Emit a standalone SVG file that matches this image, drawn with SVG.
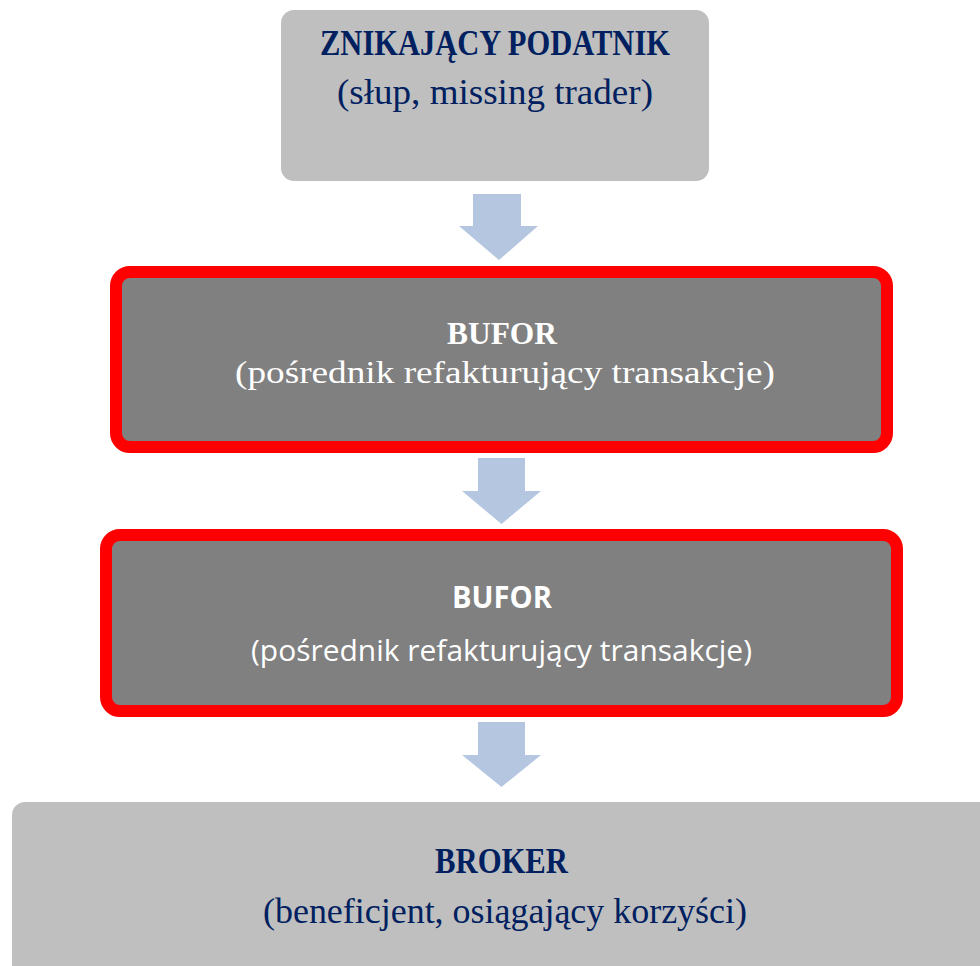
<svg xmlns="http://www.w3.org/2000/svg" width="980" height="966" viewBox="0 0 980 966">
  <style>
    .light { fill: #bfbfbf; }
    .dark { fill: #808080; stroke: #ff0000; stroke-width: 12; }
    .arrow { fill: #b4c6e0; }
    .serif { font-family: "Liberation Serif", "DejaVu Serif", serif; text-anchor: middle; }
    .sans { font-family: "Open Sans", "Noto Sans", "Liberation Sans", sans-serif; text-anchor: middle; }
    .navy { fill: #002060; }
    .white { fill: #ffffff; }
    .b { font-weight: bold; }
  </style>
  <rect x="0" y="0" width="980" height="966" fill="#ffffff"/>
  <g id="connectors">
    <polygon class="arrow" points="473,194 521,194 521,226 538,226 499,260 459,226 473,226"/>
    <polygon class="arrow" points="478,458 525,458 525,491 541,491 501.5,524 462,491 478,491"/>
    <polygon class="arrow" points="478,722 525,722 525,755 541,755 501.5,787 462,755 478,755"/>
  </g>
  <g id="node-znikajacy">
    <rect class="light" x="281" y="10" width="428" height="171" rx="13"/>
    <text class="serif navy b" x="495" y="55" font-size="35" textLength="350" lengthAdjust="spacingAndGlyphs">ZNIKAJĄCY PODATNIK</text>
    <text class="serif navy" x="495" y="104" font-size="35" textLength="316" lengthAdjust="spacingAndGlyphs">(słup, missing trader)</text>
  </g>
  <g id="node-bufor1">
    <rect class="dark" x="116" y="272" width="771" height="175" rx="14"/>
    <text class="serif white b" x="502" y="344" font-size="31" textLength="110" lengthAdjust="spacingAndGlyphs">BUFOR</text>
    <text class="serif white" x="505" y="383" font-size="32" textLength="540" lengthAdjust="spacingAndGlyphs">(pośrednik refakturujący transakcje)</text>
  </g>
  <g id="node-bufor2">
    <rect class="dark" x="106" y="535" width="791" height="176" rx="14"/>
    <text class="sans white b" x="502" y="608" font-size="29.5" textLength="100" lengthAdjust="spacingAndGlyphs">BUFOR</text>
    <text class="sans white" x="501.5" y="661" font-size="30" textLength="501" lengthAdjust="spacingAndGlyphs">(pośrednik refakturujący transakcje)</text>
  </g>
  <g id="node-broker">
    <rect class="light" x="12" y="802" width="990" height="200" rx="13"/>
    <text class="serif navy b" x="501.5" y="873" font-size="35" textLength="133" lengthAdjust="spacingAndGlyphs">BROKER</text>
    <text class="serif navy" x="505" y="923" font-size="35" textLength="484" lengthAdjust="spacingAndGlyphs">(beneficjent, osiągający korzyści)</text>
  </g>
</svg>
